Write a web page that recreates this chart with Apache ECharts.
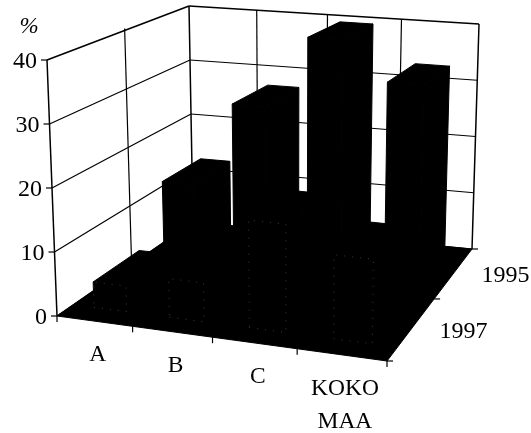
<!DOCTYPE html>
<html>
<head>
<meta charset="utf-8">
<style>html,body{margin:0;padding:0;background:#fff}#c{width:531px;height:433px}</style>
<script src="https://cdn.jsdelivr.net/npm/echarts@6/dist/echarts.min.js"></script>
</head>
<body>
<div id="c"></div>
<script>
var categories = ['A', 'B', 'C', 'KOKO\nMAA'];
var rows = ['1997', '1995'];
var valueTicks = [0, 10, 20, 30, 40];
var values1995 = [13, 27.3, 39.5, 33];
var values1997 = [4, 6, 16.5, 12.7];
var axisTitle = '%';

// view: floor corners on screen and the upright edge at each corner (camera calibration)
var floorQuad = { fl: [57, 316], fr: [387, 361], br: [472, 249], bl: [193, 222] };
var uprights = { fl: [-10, -256], fr: [4, -272], br: [7, -225], bl: [-4, -216] };
var barWidthShare = 0.44, barDepthShare = 0.63, barDepthShift = 0.01;
var FONT = '"Liberation Serif","Times New Roman",serif';

var Q = floorQuad;
var dx1 = Q.fr[0] - Q.br[0], dx2 = Q.bl[0] - Q.br[0], sx = Q.fl[0] - Q.fr[0] + Q.br[0] - Q.bl[0];
var dy1 = Q.fr[1] - Q.br[1], dy2 = Q.bl[1] - Q.br[1], sy = Q.fl[1] - Q.fr[1] + Q.br[1] - Q.bl[1];
var det = dx1 * dy2 - dx2 * dy1;
var hg = (sx * dy2 - dx2 * sy) / det, hh = (dx1 * sy - sx * dy1) / det;
var ha = Q.fr[0] - Q.fl[0] + hg * Q.fr[0], hb = Q.bl[0] - Q.fl[0] + hh * Q.bl[0];
var hd = Q.fr[1] - Q.fl[1] + hg * Q.fr[1], he = Q.bl[1] - Q.fl[1] + hh * Q.bl[1];

function project(u, d, z) {
  var w = hg * u + hh * d + 1;
  var bx = (ha * u + hb * d + Q.fl[0]) / w, by = (hd * u + he * d + Q.fl[1]) / w;
  var U = uprights;
  function bil(i) {
    return (1 - u) * (1 - d) * U.fl[i] + u * (1 - d) * U.fr[i] + u * d * U.br[i] + (1 - u) * d * U.bl[i];
  }
  return [bx + z * bil(0), by + z * bil(1)];
}
function line(a, b, width) {
  return { type: 'line', shape: { x1: a[0], y1: a[1], x2: b[0], y2: b[1] },
    style: { stroke: '#000', lineWidth: width || 1.2, fill: null } };
}
function poly(points, style) {
  return { type: 'polygon', shape: { points: points }, style: style };
}
function text(str, x, y, align, size, italic) {
  return { type: 'text', x: x, y: y, style: { text: str, x: 0, y: 0, fill: '#000', align: align || 'center',
    verticalAlign: 'middle', font: (italic ? 'italic ' : '') + (size || 22) + 'px ' + FONT } };
}

function renderFrame(params, api) {
  var cs = params.coordSys, kids = [];
  function zOf(v) { return (cs.y + cs.height - api.coord([0, v])[1]) / cs.height; }
  function uOf(i) { return (api.coord([i, 0])[0] - cs.x) / cs.width; }
  var band = api.size([1, 0])[0] / cs.width;

  // walls
  valueTicks.forEach(function (v) {
    var z = zOf(v), wide = v === valueTicks[valueTicks.length - 1] ? 1.6 : 1.2;
    var a = project(0, 0, z), b = project(0, 1, z), c = project(1, 1, z);
    kids.push(line(a, b, wide), line(b, c, wide));
    kids.push(line([a[0] - 6, a[1]], a, 1.2));
    kids.push(text(String(v), a[0] - 10, a[1] + 2, 'right', 24));
  });
  var zTop = zOf(valueTicks[valueTicks.length - 1]);
  kids.push(line(project(0, 0, 0), project(0, 0, zTop), 1.5));
  kids.push(line(project(0, 1, 0), project(0, 1, zTop), 1.5));
  kids.push(line(project(1, 1, 0), project(1, 1, zTop), 1.5));
  kids.push(line(project(0, 0.5, 0), project(0, 0.5, zTop), 1.2));
  categories.forEach(function (c, i) {
    if (i > 0) {
      var u = uOf(i) - band / 2;
      kids.push(line(project(u, 1, 0), project(u, 1, zTop), 1.2));
    }
  });

  // floor
  kids.push(poly([project(0, 0, 0), project(1, 0, 0), project(1, 1, 0), project(0, 1, 0)],
    { fill: '#000', stroke: '#000', lineWidth: 1 }));

  // category ticks and labels
  categories.forEach(function (c, i) {
    var u0 = uOf(i) - band / 2, s = project(u0, 0, 0);
    kids.push(line(s, [s[0], s[1] + 6], 1.2));
    var m = project(uOf(i), 0, 0);
    c.split('\n').forEach(function (t, k) {
      kids.push(text(t, m[0] + 3.5, m[1] + 34 + k * 33, 'center', 23.5));
    });
  });
  var end = project(1, 0, 0);
  kids.push(line(end, [end[0], end[1] + 6], 1.2));

  // depth ticks and labels
  rows.forEach(function (r, i) {
    var n = rows.length;
    var t0 = project(1, i / n, 0), t1 = project(1, (i + 1) / n, 0), m = project(1, (i + 0.5) / n, 0);
    kids.push(line(t0, [t0[0] + 6, t0[1]], 1.2));
    if (i === n - 1) kids.push(line(t1, [t1[0] + 6, t1[1]], 1.2));
    kids.push(text(r, m[0] + 51.5, m[1] + 3, 'center', 24));
  });

  kids.push(text(axisTitle, 29, 27, 'center', 23, true));
  return { type: 'group', children: kids };
}

function renderBars(rowIndex, dotted) {
  return function (params, api) {
    var cs = params.coordSys;
    var p = api.coord([api.value(0), api.value(1)]);
    var u = (p[0] - cs.x) / cs.width;
    var z = (cs.y + cs.height - p[1]) / cs.height;
    var hw = api.size([1, 0])[0] / cs.width * barWidthShare / 2;
    var hd2 = barDepthShare / rows.length / 2;
    var dc = (rowIndex + 0.5) / rows.length + barDepthShift;
    var u0 = u - hw, u1 = u + hw, d0 = dc - hd2, d1 = dc + hd2;
    var black = { fill: '#000', stroke: '#000', lineWidth: 1 };
    var kids = [
      poly([project(u1, d0, 0), project(u1, d1, 0), project(u1, d1, z), project(u1, d0, z)], black),
      poly([project(u0, d0, z), project(u1, d0, z), project(u1, d1, z), project(u0, d1, z)], black),
      poly([project(u0, d0, 0), project(u1, d0, 0), project(u1, d0, z), project(u0, d0, z)], black)
    ];
    if (dotted) {
      kids.push(poly([project(u0, d0, 0), project(u1, d0, 0), project(u1, d0, z), project(u0, d0, z)],
        { fill: 'none', stroke: '#3a3a3a', lineWidth: 1, lineDash: [1, 7] }));
    }
    return { type: 'group', children: kids };
  };
}

var chart = echarts.init(document.getElementById('c'), null, { renderer: 'canvas' });
chart.setOption({
  animation: false,
  backgroundColor: '#fff',
  grid: { left: 60, right: 60, top: 60, bottom: 117 },
  xAxis: { type: 'category', data: categories, show: false },
  yAxis: { type: 'value', min: 0, max: 40, interval: 10, show: false },
  series: [
    { type: 'custom', name: 'frame', renderItem: renderFrame, data: [[0, 0]], silent: true, clip: false },
    { type: 'custom', name: rows[1], renderItem: renderBars(1, false),
      data: values1995.map(function (v, i) { return [i, v]; }), silent: true, clip: false },
    { type: 'custom', name: rows[0], renderItem: renderBars(0, true),
      data: values1997.map(function (v, i) { return [i, v]; }), silent: true, clip: false }
  ]
});
</script>
</body>
</html>
